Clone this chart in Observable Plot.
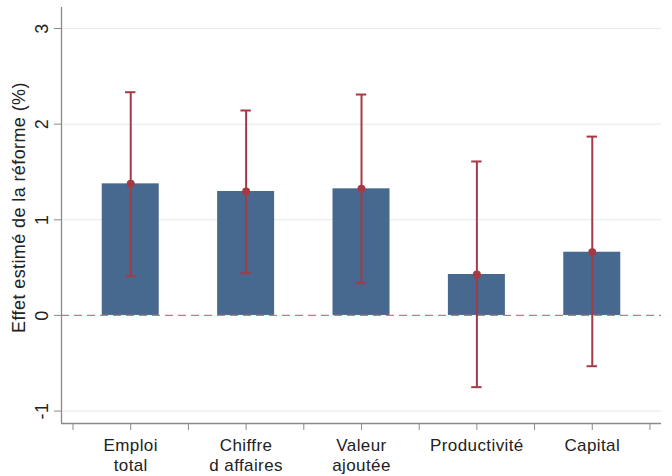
<!DOCTYPE html>
<html>
<head>
<meta charset="utf-8">
<script src="https://cdn.jsdelivr.net/npm/d3@7"></script>
<script src="https://cdn.jsdelivr.net/npm/@observablehq/plot@0.6"></script>
<style>
  html, body { margin: 0; padding: 0; background: #fff; }
  #chart svg { display: block; }
</style>
</head>
<body>
<div id="chart"></div>
<script>
// Data
const categories = ["Emploi\ntotal", "Chiffre\nd affaires", "Valeur\najoutée", "Productivité", "Capital"];
const estimates = [1.376, 1.296, 1.324, 0.428, 0.661];
const upperCI   = [2.334, 2.143, 2.310, 1.610, 1.870];
const lowerCI   = [0.410, 0.441, 0.337, -0.750, -0.531];
const yTicks = [-1, 0, 1, 2, 3];
const yLabel = "Effet estimé de la réforme (%)";

const rows = categories.map((c, i) => ({pos: i + 1, label: c, est: estimates[i], hi: upperCI[i], lo: lowerCI[i]}));
const xDomain = [0.4, 5.6];
const yDomain = [-1.13, 3.22];
const xHalfTicks = d3.range(0.5, 5.51, 0.5);
const barHalf = 0.247;
const capHalf = 0.045;

const barColor = "#48698f";
const ciColor = "#a43a46";
const axisColor = "#8a8a8a";
const font = "'Liberation Sans', Arial, Helvetica, sans-serif";

const chart = Plot.plot({
  width: 672,
  height: 476,
  marginTop: 7,
  marginBottom: 53,
  marginLeft: 61,
  marginRight: 11,
  style: {fontFamily: font, fontSize: "17px", color: "#222", background: "#fff", letterSpacing: "0.4px"},
  x: {domain: xDomain, axis: null},
  y: {domain: yDomain, axis: null},
  marks: [
    // horizontal grid
    Plot.gridY(yTicks.filter(t => t !== 0), {stroke: "#e6eaea", strokeOpacity: 1, strokeWidth: 1}),
    // bars
    Plot.rectY(rows, {x1: d => d.pos - barHalf, x2: d => d.pos + barHalf, y1: 0, y2: "est", fill: barColor}),
    // zero line dashed
    Plot.ruleY([0], {stroke: "#c0606c", strokeWidth: 1.2, strokeDasharray: "8,5", strokeOpacity: 0.85}),
    // confidence intervals
    Plot.ruleX(rows, {x: "pos", y1: "lo", y2: "hi", stroke: ciColor, strokeWidth: 2}),
    Plot.ruleY(rows, {y: "hi", x1: d => d.pos - capHalf, x2: d => d.pos + capHalf, stroke: ciColor, strokeWidth: 2}),
    Plot.ruleY(rows, {y: "lo", x1: d => d.pos - capHalf, x2: d => d.pos + capHalf, stroke: ciColor, strokeWidth: 2}),
    Plot.dot(rows, {x: "pos", y: "est", r: 4, fill: ciColor, stroke: null}),
    // axes lines
    Plot.ruleX([xDomain[0]], {stroke: axisColor, strokeWidth: 1.3}),
    Plot.ruleY([yDomain[0]], {stroke: axisColor, strokeWidth: 1.3}),
    // y axis
    Plot.axisY({ticks: yTicks, tickSize: 7, tickPadding: 7, tickRotate: -90, tickFormat: d => String(d), stroke: axisColor, fill: "#222", fontSize: 18, label: null}),
    Plot.text([yLabel], {frameAnchor: "left", dx: -42, dy: -8, rotate: -90, textAnchor: "middle", fill: "#222", fontSize: 18}),
    // x axis ticks
    Plot.axisX({ticks: xHalfTicks, tickSize: 7, tickFormat: () => "", stroke: axisColor, label: null}),
    Plot.axisX({ticks: rows.map(d => d.pos), tickSize: 0, tickPadding: 13, tickFormat: p => categories[p - 1], lineHeight: 1.18, fill: "#222", fontSize: 17, label: null})
  ]
});
document.getElementById("chart").appendChild(chart);
</script>
</body>
</html>
